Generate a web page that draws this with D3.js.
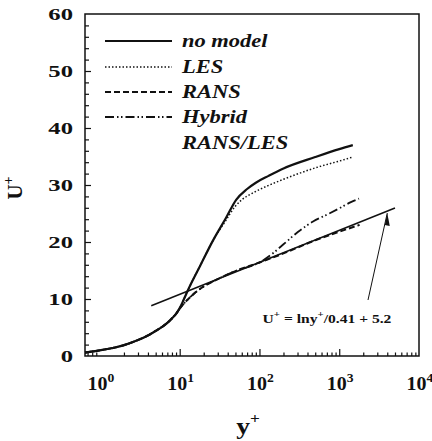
<!DOCTYPE html>
<html>
<head>
<meta charset="utf-8">
<script src="https://cdn.jsdelivr.net/npm/d3@7"></script>
<style>
  body { margin: 0; background: #fff; }
  text { font-family: "Liberation Serif", "Times New Roman", serif; font-weight: bold; fill: #111; }
</style>
</head>
<body>
<div id="chart"></div>
<script>
// values
var noModelY = [0.65, 1, 1.5, 2, 3, 4, 5, 6, 7, 8, 9, 10, 11, 12, 14, 18, 26, 38, 51, 70, 90, 130, 200, 500, 1000, 1480];
var noModelU = [0.6, 1, 1.45, 1.9, 2.8, 3.6, 4.4, 5.1, 5.8, 6.6, 7.4, 8.4, 9.6, 10.8, 12.8, 15.8, 20.2, 24.2, 27.4, 29.3, 30.4, 31.6, 32.9, 34.9, 36.3, 37];

var lesY = [0.65, 1, 1.5, 2, 3, 4, 5, 6, 7, 8, 9, 10, 11, 12, 14, 18, 26, 38, 50, 60, 80, 100, 200, 500, 1000, 1480];
var lesU = [0.6, 1, 1.45, 1.9, 2.8, 3.6, 4.4, 5.1, 5.8, 6.6, 7.4, 8.4, 9.6, 10.8, 12.8, 15.8, 20.2, 23.8, 26.3, 27.4, 28.5, 29.2, 31, 33, 34.2, 34.9];

var ransY = [0.65, 1, 1.5, 2, 3, 4, 5, 6, 7, 8, 9, 10, 12, 15, 20, 30, 50, 100, 200, 500, 1000, 1800];
var ransU = [0.6, 1, 1.45, 1.9, 2.8, 3.6, 4.4, 5.1, 5.8, 6.6, 7.4, 8.3, 9.6, 10.9, 12.2, 13.5, 14.9, 16.4, 18, 20.3, 21.8, 23];

var hybridY = [0.65, 1, 1.5, 2, 3, 4, 5, 6, 7, 8, 9, 10, 12, 15, 20, 30, 50, 100, 150, 200, 300, 470, 750, 1000, 1400, 1770];
var hybridU = [0.6, 1, 1.45, 1.9, 2.8, 3.6, 4.4, 5.1, 5.8, 6.6, 7.4, 8.3, 9.6, 10.9, 12.2, 13.5, 14.9, 16.4, 18.1, 19.6, 21.7, 23.6, 25, 25.9, 27, 27.6];

var logLawRange = [4.4, 5000];
var arrowAt = 4000;

var yTicks = [0, 10, 20, 30, 40, 50, 60];
var xDecades = [1, 10, 100, 1000, 10000];

var legendNames = ["no model", "LES", "RANS", "Hybrid"];

var width = 432, height = 441;
var svg = d3.select("#chart").append("svg")
    .attr("width", width)
    .attr("height", height);

svg.append("rect").attr("width", width).attr("height", height).attr("fill", "#fff");

var x = d3.scaleLog().domain([0.65, 10000]).range([85, 419]);
var y = d3.scaleLinear().domain([0, 60]).range([356, 14]);

// stretched text, the scan is wider than Times
function label(g, str, px, py, size, anchor, sx) {
  sx = sx || 1.15;
  return g.append("text")
    .attr("transform", "translate(" + px + "," + py + ") scale(" + sx + ",1)")
    .attr("font-size", size)
    .attr("text-anchor", anchor)
    .text(str);
}

// frame
svg.append("rect")
  .attr("x", 85).attr("y", 14)
  .attr("width", 419 - 85).attr("height", 356 - 14)
  .attr("fill", "none").attr("stroke", "#111").attr("stroke-width", 1.5);

// x ticks, inward
var minorX = [];
[0.1, 1, 10, 100, 1000].forEach(function(d) {
  for (var k = 2; k <= 9; k++) {
    var v = d * k;
    if (v >= 0.65 && v <= 10000 && [1, 10, 100, 1000, 10000].indexOf(v) < 0) minorX.push(v);
  }
});

svg.append("g")
  .attr("transform", "translate(0,356)")
  .call(d3.axisBottom(x).tickValues(minorX).tickSize(-3.5).tickFormat(""))
  .call(function(g) { g.select(".domain").remove(); g.selectAll("line").attr("stroke", "#111").attr("stroke-width", 1.2); });

svg.append("g")
  .attr("transform", "translate(0,356)")
  .call(d3.axisBottom(x).tickValues(xDecades.slice(1, 4)).tickSize(-7).tickFormat(""))
  .call(function(g) { g.select(".domain").remove(); g.selectAll("line").attr("stroke", "#111").attr("stroke-width", 1.2); });

// x tick labels 10^n
xDecades.forEach(function(d, i) {
  var t = svg.append("text")
    .attr("transform", "translate(" + (x(d) + 1) + ",390) scale(1.05,1)")
    .attr("font-size", 19)
    .attr("text-anchor", "middle");
  t.append("tspan").text("10");
  t.append("tspan").attr("font-size", 13).attr("dy", -8).text(i);
});

// y ticks, inward
var minorY = d3.range(0, 61, 2).filter(function(v) { return v % 10 !== 0; });
svg.append("g")
  .attr("transform", "translate(85,0)")
  .call(d3.axisLeft(y).tickValues(minorY).tickSize(-4).tickFormat(""))
  .call(function(g) { g.select(".domain").remove(); g.selectAll("line").attr("stroke", "#111").attr("stroke-width", 1.2); });
svg.append("g")
  .attr("transform", "translate(85,0)")
  .call(d3.axisLeft(y).tickValues(yTicks.slice(1, 6)).tickSize(-6).tickFormat(""))
  .call(function(g) { g.select(".domain").remove(); g.selectAll("line").attr("stroke", "#111").attr("stroke-width", 1.2); });

yTicks.forEach(function(d) {
  label(svg, String(d), 73, y(d) + 6, 17, "end", 1.45);
});

// axis titles
var ut = svg.append("text")
  .attr("transform", "translate(22,188) rotate(-90)")
  .attr("font-size", 21)
  .attr("text-anchor", "middle");
ut.append("tspan").text("U");
ut.append("tspan").attr("font-size", 14).attr("dy", -9).text("+");

var yt = svg.append("text")
  .attr("transform", "translate(248,434) scale(1.15,1)")
  .attr("font-size", 24)
  .attr("text-anchor", "middle");
yt.append("tspan").text("y");
yt.append("tspan").attr("font-size", 15).attr("dy", -11).text("+");

// curves
var line = d3.line()
  .x(function(d) { return x(d[0]); })
  .y(function(d) { return y(d[1]); })
  .curve(d3.curveMonotoneX);

function zip(a, b) { return a.map(function(v, i) { return [v, b[i]]; }); }

var series = [
  { data: zip(noModelY, noModelU), dash: null, w: 2.2 },
  { data: zip(lesY, lesU), dash: "1.5,2", w: 1.5 },
  { data: zip(ransY, ransU), dash: "6,3", w: 2 },
  { data: zip(hybridY, hybridU), dash: "9,3,1.5,2.5,1.5,3", w: 1.8 }
];

series.forEach(function(s) {
  svg.append("path")
    .datum(s.data)
    .attr("d", line)
    .attr("fill", "none")
    .attr("stroke", "#111")
    .attr("stroke-width", s.w)
    .attr("stroke-dasharray", s.dash);
});

// log law
function logLaw(v) { return Math.log(v) / 0.41 + 5.2; }
svg.append("line")
  .attr("x1", x(logLawRange[0])).attr("y1", y(logLaw(logLawRange[0])))
  .attr("x2", x(logLawRange[1])).attr("y2", y(logLaw(logLawRange[1])))
  .attr("stroke", "#111").attr("stroke-width", 1.5);

// annotation arrow
var tipX = x(arrowAt), tipY = y(logLaw(arrowAt)) + 2;
svg.append("line")
  .attr("x1", 368).attr("y1", 300)
  .attr("x2", tipX).attr("y2", tipY)
  .attr("stroke", "#111").attr("stroke-width", 1);
svg.append("path")
  .attr("d", "M" + tipX + "," + tipY + " l-2.5,12 l5,1 z")
  .attr("fill", "#111");

var ann = svg.append("text")
  .attr("transform", "translate(327,323) scale(1.2,1)")
  .attr("font-size", 13)
  .attr("text-anchor", "middle");
ann.append("tspan").text("U");
ann.append("tspan").attr("font-size", 9).attr("dy", -6).text("+");
ann.append("tspan").attr("dy", 6).text(" = lny");
ann.append("tspan").attr("font-size", 9).attr("dy", -6).text("+");
ann.append("tspan").attr("dy", 6).text("/0.41 + 5.2");

// legend
var legY = [41, 67, 92, 117];
series.forEach(function(s, i) {
  svg.append("line")
    .attr("x1", 105).attr("x2", 172)
    .attr("y1", legY[i]).attr("y2", legY[i])
    .attr("stroke", "#111")
    .attr("stroke-width", s.w)
    .attr("stroke-dasharray", s.dash);
  label(svg, legendNames[i], 182, legY[i] + 6, 18, "start", 1.25).attr("font-style", "italic");
});
label(svg, "RANS/LES", 182, 149, 18, "start", 1.25).attr("font-style", "italic");
</script>
</body>
</html>
